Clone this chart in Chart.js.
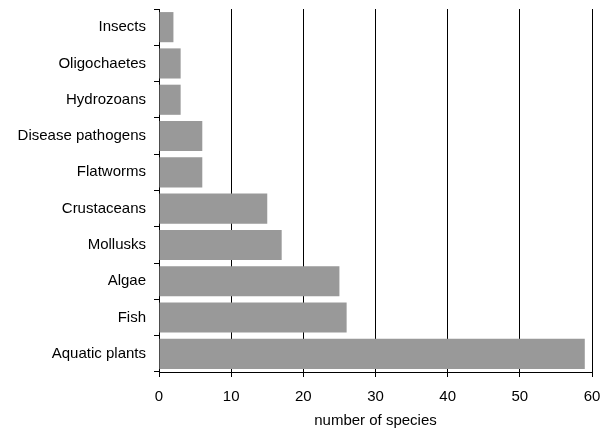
<!DOCTYPE html>
<html lang="en">
<head>
  <meta charset="UTF-8" />
  <title>Species by group</title>
  <script src="https://cdn.jsdelivr.net/npm/chart.js"></script>
  <style>
    body { margin: 0; background: #fff; }
    .wrap { width: 607px; height: 428px; }
  </style>
</head>
<body>
  <div class="wrap"><canvas id="speciesChart" width="607" height="428"></canvas></div>
  <script>
    // Datos
    const groups = ['Insects', 'Oligochaetes', 'Hydrozoans', 'Disease pathogens', 'Flatworms',
                    'Crustaceans', 'Mollusks', 'Algae', 'Fish', 'Aquatic plants'];
    const speciesCount = [2, 3, 3, 6, 6, 15, 17, 25, 26, 59];
    const xTicks = [0, 10, 20, 30, 40, 50, 60];

    const font = { family: 'Liberation Sans, Arial, sans-serif', size: 15 };

    new Chart(document.getElementById('speciesChart'), {
      type: 'bar',
      data: {
        labels: groups,
        datasets: [{
          data: speciesCount,
          backgroundColor: '#999999',
          borderWidth: 0,
          categoryPercentage: 1,
          barPercentage: 0.83
        }]
      },
      options: {
        indexAxis: 'y',
        responsive: false,
        animation: false,
        layout: { padding: { top: 9, right: 15, left: 0, bottom: 0 } },
        plugins: { legend: { display: false }, tooltip: { enabled: false } },
        scales: {
          x: {
            min: xTicks[0],
            max: xTicks[xTicks.length - 1],
            afterBuildTicks: s => { s.ticks = xTicks.map(v => ({ value: v })); },
            afterFit: s => { s.height = 56; s.paddingLeft = 0; s.paddingRight = 0; },
            grid: { color: '#000', lineWidth: 1, tickLength: 5, drawOnChartArea: true },
            border: { color: '#000', width: 1 },
            ticks: { color: '#000', font, padding: 11, maxRotation: 0 },
            title: { display: true, text: 'number of species', color: '#000', font, padding: { top: 8, bottom: -2 } }
          },
          y: {
            afterFit: s => { s.width = 159; s.paddingTop = 0; s.paddingBottom = 0; },
            grid: { drawOnChartArea: false, color: '#000', tickLength: 5, offset: true },
            border: { color: '#000', width: 1 },
            ticks: { color: '#000', font, padding: 8 }
          }
        }
      }
    });
  </script>
</body>
</html>
